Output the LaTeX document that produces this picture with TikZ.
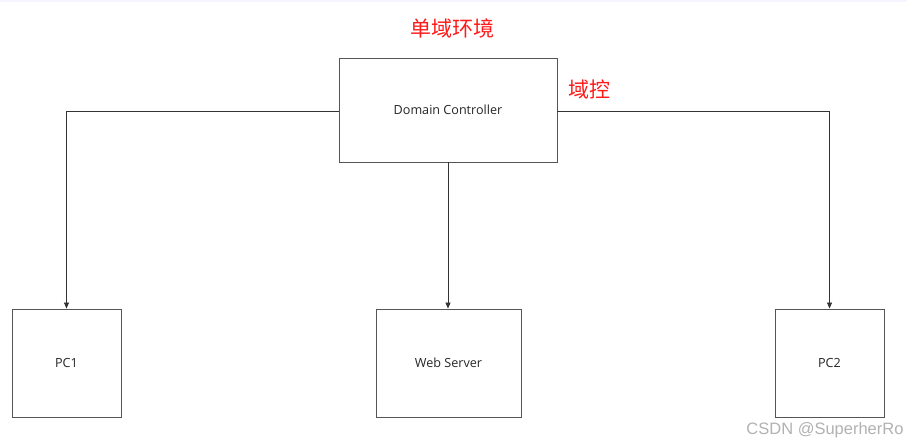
\documentclass[tikz,border=0pt]{standalone}
\usepackage{fontspec}
\setmainfont{Open Sans}
\newfontfamily\cjk{Noto Sans CJK SC}
\newfontfamily\wmfont{Liberation Sans}
\usetikzlibrary{arrows.meta}
\definecolor{boxline}{HTML}{555555}
\definecolor{redtxt}{HTML}{FF1A1A}
\tikzset{
  box/.style={draw=boxline, line width=0.9pt, fill=white, inner sep=0pt, font=\fontsize{12.6}{15}\selectfont, text=black!85},
  conn/.style={draw=black!80, line width=0.7pt, -{Triangle[length=6pt,width=5pt]}},
  lbl/.style={text=redtxt, font=\cjk\fontsize{21}{25}\selectfont, inner sep=0pt}
}
\begin{document}
\begin{tikzpicture}[x=1pt,y=-1pt]
\useasboundingbox[fill=white] (0,0) rectangle (907,446);
\fill[blue!4] (0,0) rectangle (907,2);
\node[box, minimum width=218pt, minimum height=104pt] (dc) at (448,110) {Domain Controller};
\node[box, minimum width=109pt, minimum height=108pt] (pc1) at (66.5,363) {PC1};
\node[box, minimum width=145pt, minimum height=108pt] (web) at (448.5,363) {Web Server};
\node[box, minimum width=109pt, minimum height=108pt] (pc2) at (829.5,363) {PC2};
\node[lbl] (title) at (452,28) {单域环境};
\node[lbl] (dclbl) at (589,90) {域控};
\node[text=black!30, font=\wmfont\fontsize{16.5}{19}\selectfont, inner sep=0pt] (wm) at (825,430) {CSDN @SuperherRo};
\draw[conn] (dc.west |- 0,111) -| (pc1.north);
\draw[conn] (dc.east |- 0,111) -| (pc2.north);
\draw[conn] (dc.south) -- (web.north -| dc.south);
\end{tikzpicture}
\end{document}
